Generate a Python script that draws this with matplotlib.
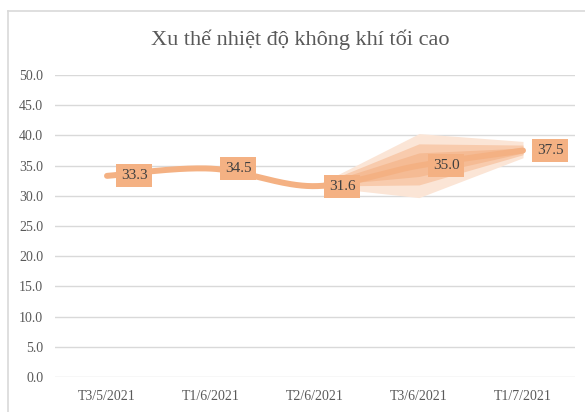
import matplotlib
matplotlib.use("Agg")
import matplotlib.pyplot as plt
import numpy as np
from matplotlib.lines import Line2D

categories = ["T3/5/2021", "T1/6/2021", "T2/6/2021", "T3/6/2021", "T1/7/2021"]
values = [33.3, 34.5, 31.6, 35.0, 37.5]

# forecast bands (from T2/6 to T1/7)
band_idx = [2, 3, 4]
outer_lo = [31.6, 29.7, 36.3]
outer_hi = [31.6, 40.3, 39.0]
mid_lo = [31.6, 31.8, 36.8]
mid_hi = [31.6, 38.6, 38.4]
inner_lo = [31.6, 33.2, 37.1]
inner_hi = [31.6, 37.1, 37.9]

yticks = [0, 5, 10, 15, 20, 25, 30, 35, 40, 45, 50]

FONT = ["Liberation Serif", "DejaVu Serif"]
plt.rcParams["font.family"] = FONT

LINE = "#F4B183"
C_OUT = "#FBE5D6"
C_MID = "#F8CBAD"
C_IN = "#F5BB94"
TXT = "#595959"

fig = plt.figure(figsize=(5.85, 4.12), dpi=100)
W, H = 585, 412
ax = fig.add_axes([55 / W, (H - 377) / H, 520 / W, (377 - 75) / H])

x = np.arange(len(categories), dtype=float)
y = np.array(values)


def smooth(xp, yp, n=40):
    # Excel-like Bezier smoothing
    xs, ys = [], []
    N = len(xp)
    for i in range(N - 1):
        p0 = np.array([xp[max(i - 1, 0)], yp[max(i - 1, 0)]])
        p1 = np.array([xp[i], yp[i]])
        p2 = np.array([xp[i + 1], yp[i + 1]])
        p3 = np.array([xp[min(i + 2, N - 1)], yp[min(i + 2, N - 1)]])
        c1 = p1 + (p2 - p0) / 6.0
        c2 = p2 - (p3 - p1) / 6.0
        t = np.linspace(0, 1, n)[:, None]
        b = ((1 - t) ** 3) * p1 + 3 * ((1 - t) ** 2) * t * c1 + 3 * (1 - t) * t ** 2 * c2 + t ** 3 * p2
        xs.extend(b[:, 0])
        ys.extend(b[:, 1])
    return np.array(xs), np.array(ys)


bx = x[band_idx]
ax.fill_between(bx, outer_lo, outer_hi, color=C_OUT, lw=0, zorder=2)
ax.fill_between(bx, mid_lo, mid_hi, color=C_MID, lw=0, zorder=3)
ax.fill_between(bx, inner_lo, inner_hi, color=C_IN, lw=0, zorder=4)

sx, sy = smooth(x, y)
ax.plot(sx, sy, color=LINE, lw=4.3, solid_capstyle="round", zorder=5)

for xi, yi in zip(x, y):
    ax.annotate(f"{yi:.1f}", (xi, yi), xytext=(10, 0), textcoords="offset points",
                ha="left", va="center", fontsize=11, color="#404040",
                bbox=dict(boxstyle="square,pad=0.32", fc=LINE, ec="none"), zorder=6)

ax.set_xlim(-0.5, len(categories) - 0.5)
ax.set_ylim(0, 50)
ax.set_yticks(yticks)
ax.set_yticklabels([f"{v:.1f}" for v in yticks])
ax.set_xticks(x)
ax.set_xticklabels(categories)
ax.tick_params(axis="both", length=0, labelsize=10, colors=TXT)
ax.tick_params(axis="y", pad=8.5)
ax.tick_params(axis="x", pad=9)
ax.grid(axis="y", color="#D9D9D9", lw=1)
ax.set_axisbelow(True)
for s in ax.spines.values():
    s.set_visible(False)

fig.text(300 / W, 1 - 40 / H, "Xu thế nhiệt độ không khí tối cao", ha="center", va="center",
         fontsize=16, color=TXT)

# chart border
fig.add_artist(Line2D([8 / W, 1.0], [1 - 11 / H, 1 - 11 / H], color="#D9D9D9", lw=1.2, transform=fig.transFigure))
fig.add_artist(Line2D([8 / W, 8 / W], [0, 1 - 11 / H], color="#D9D9D9", lw=1.2, transform=fig.transFigure))

fig.savefig("out.png", dpi=100, facecolor="white")
